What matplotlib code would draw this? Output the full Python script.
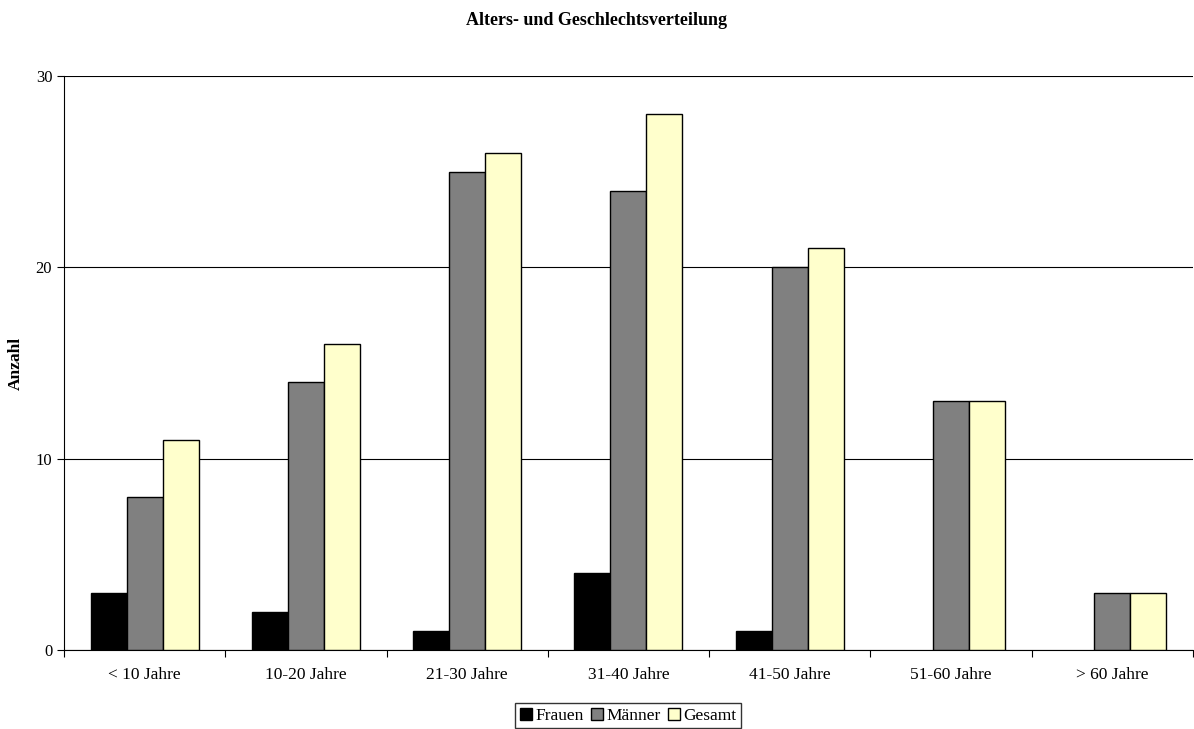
import numpy as np
import matplotlib.pyplot as plt

plt.rcParams['font.family'] = ['Liberation Serif', 'DejaVu Serif']

categories = ['< 10 Jahre', '10-20 Jahre', '21-30 Jahre', '31-40 Jahre',
              '41-50 Jahre', '51-60 Jahre', '> 60 Jahre']
frauen = [3, 2, 1, 4, 1, 0, 0]
maenner = [8, 14, 25, 24, 20, 13, 3]
gesamt = [11, 16, 26, 28, 21, 13, 3]

fig = plt.figure(figsize=(11.94, 7.29), dpi=100)
ax = fig.add_axes([0.0536, 0.1084, 0.9454, 0.7873])

x = np.arange(len(categories))
w = 0.223
# zero-height bars leave no visible edge
f_lw = [1 if v > 0 else 0 for v in frauen]
ax.bar(x - w, frauen, w, color='black', edgecolor='black', linewidth=f_lw, label='Frauen', zorder=3)
ax.bar(x, maenner, w, color='#808080', edgecolor='black', linewidth=1, label='Männer', zorder=3)
ax.bar(x + w, gesamt, w, color='#ffffcc', edgecolor='black', linewidth=1, label='Gesamt', zorder=3)

ax.set_xlim(-0.5, len(categories) - 0.5)
ax.set_ylim(0, 30)
ax.set_yticks([0, 10, 20, 30])
ax.yaxis.grid(True, color='black', linewidth=0.8)
ax.set_axisbelow(True)

ax.set_xticks(np.arange(len(categories) + 1) - 0.5)
ax.set_xticklabels([])
ax.set_xticks(x, minor=True)
ax.set_xticklabels(categories, minor=True, fontsize=12.5)
ax.tick_params(axis='x', which='minor', length=0, pad=12)
ax.tick_params(axis='x', which='major', length=5, direction='out')
ax.tick_params(axis='y', length=5, labelsize=12)

for s in ['top', 'right']:
    ax.spines[s].set_visible(False)

ax.set_ylabel('Anzahl', fontsize=12.5, fontweight='bold')
ax.yaxis.set_label_coords(-0.036, 0.5)
fig.suptitle('Alters- und Geschlechtsverteilung', fontsize=13, fontweight='bold', y=0.983)

leg = fig.legend(loc='center', bbox_to_anchor=(0.526, 0.018), ncol=3, fontsize=12.5,
                 frameon=True, fancybox=False, edgecolor='black',
                 handlelength=0.7, handleheight=0.7, handletextpad=0.2,
                 columnspacing=0.4, borderpad=0.25)
leg.get_frame().set_linewidth(1)

fig.savefig('out.png', dpi=100)
